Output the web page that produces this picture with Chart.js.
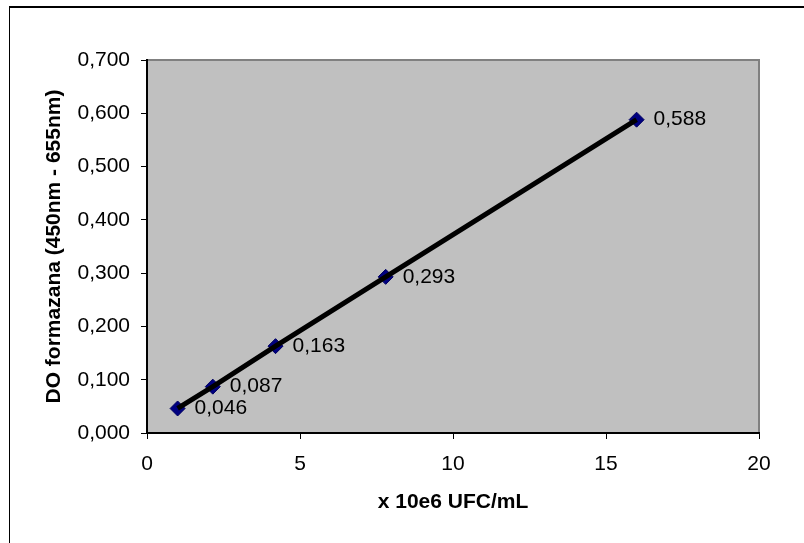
<!DOCTYPE html>
<html>
<head>
<meta charset="utf-8">
<script src="https://cdn.jsdelivr.net/npm/chart.js@4"></script>
<style>
  body { margin: 0; background: #fff; }
  #wrap { position: relative; width: 804px; height: 543px; }
  #frame { position: absolute; left: 9px; top: 6px; width: 800px; height: 540px;
           border-left: 1px solid #000; border-top: 2px solid #000; }
  #myChart { position: absolute; left: 0; top: 0; }
</style>
</head>
<body>
<div id="wrap">
  <div id="frame"></div>
  <canvas id="myChart" width="804" height="543"></canvas>
</div>
<script>
  // data
  const ufcValues = [1.0, 2.15, 4.2, 7.8, 16.0];
  const doValues = [0.046, 0.087, 0.163, 0.293, 0.588];
  const xTicks = [0, 5, 10, 15, 20];
  const yTicks = [0, 0.1, 0.2, 0.3, 0.4, 0.5, 0.6, 0.7];

(() => {
  'use strict';
  const FONT = '"Liberation Sans", Arial, sans-serif';
  const fmt = v => v.toFixed(3).replace('.', ',');

  const points = ufcValues.map((x, i) => ({x: x, y: doValues[i]}));

  // grey plot area + grey top/right border like excel
  const plotArea = {
    id: 'plotArea',
    beforeDraw(chart) {
      const {ctx, chartArea: a} = chart;
      ctx.save();
      ctx.fillStyle = '#c0c0c0';
      ctx.fillRect(a.left, a.top, a.right - a.left, a.bottom - a.top);
      ctx.strokeStyle = '#808080';
      ctx.lineWidth = 2;
      ctx.beginPath();
      ctx.moveTo(a.left, a.top);
      ctx.lineTo(a.right, a.top);
      ctx.lineTo(a.right, a.bottom);
      ctx.stroke();
      ctx.restore();
    }
  };

  // value labels right of the markers
  const valueLabels = {
    id: 'valueLabels',
    afterDatasetsDraw(chart) {
      const {ctx} = chart;
      const meta = chart.getDatasetMeta(1);
      ctx.save();
      ctx.font = '21px ' + FONT;
      ctx.fillStyle = '#000';
      ctx.textBaseline = 'middle';
      ctx.textAlign = 'left';
      meta.data.forEach((pt, i) => {
        ctx.fillText(fmt(doValues[i]), pt.x + 17, pt.y);
      });
      ctx.restore();
    }
  };

  const ctx = document.getElementById('myChart');
  // eslint-disable-next-line no-unused-vars
  const myChart = new Chart(ctx, {
    type: 'scatter',
    data: {
      datasets: [{
        label: 'linea',
        data: points,
        showLine: true,
        borderColor: '#000',
        borderWidth: 5,
        pointRadius: 0,
        order: 0
      }, {
        label: 'DO',
        data: points,
        pointStyle: 'rectRot',
        pointRadius: 7.5,
        pointBackgroundColor: '#000080',
        pointBorderColor: '#000060',
        pointBorderWidth: 1,
        order: 1
      }]
    },
    options: {
      responsive: false,
      animation: false,
      layout: {padding: {left: 0, top: 60, right: 45, bottom: 0}},
      plugins: {
        legend: {display: false},
        tooltip: {enabled: false}
      },
      scales: {
        x: {
          type: 'linear',
          min: 0,
          max: 20,
          afterFit: s => { s.height = 110; },
          afterBuildTicks: s => { s.ticks = xTicks.map(v => ({value: v})); },
          grid: {drawOnChartArea: false, tickLength: 6, color: '#000', tickWidth: 1},
          border: {display: true, color: '#000', width: 2},
          ticks: {padding: 13, color: '#000', font: {family: FONT, size: 21}},
          title: {
            display: true,
            text: 'x 10e6 UFC/mL',
            color: '#000',
            font: {family: FONT, size: 21, weight: 'bold'},
            padding: {top: 0, bottom: 28}
          }
        },
        y: {
          type: 'linear',
          min: 0,
          max: 0.7,
          afterFit: s => { s.width = 147; },
          afterBuildTicks: s => { s.ticks = yTicks.map(v => ({value: v})); },
          grid: {drawOnChartArea: false, tickLength: 6, color: '#000', tickWidth: 1},
          border: {display: true, color: '#000', width: 2},
          ticks: {
            padding: 11,
            color: '#000',
            font: {family: FONT, size: 21},
            callback: v => fmt(v)
          },
          title: {
            display: true,
            text: 'DO formazana (450nm - 655nm)',
            color: '#000',
            font: {family: FONT, size: 21, weight: 'bold'},
            padding: {top: 42, bottom: 0}
          }
        }
      }
    },
    plugins: [plotArea, valueLabels]
  });
})();
</script>
</body>
</html>
